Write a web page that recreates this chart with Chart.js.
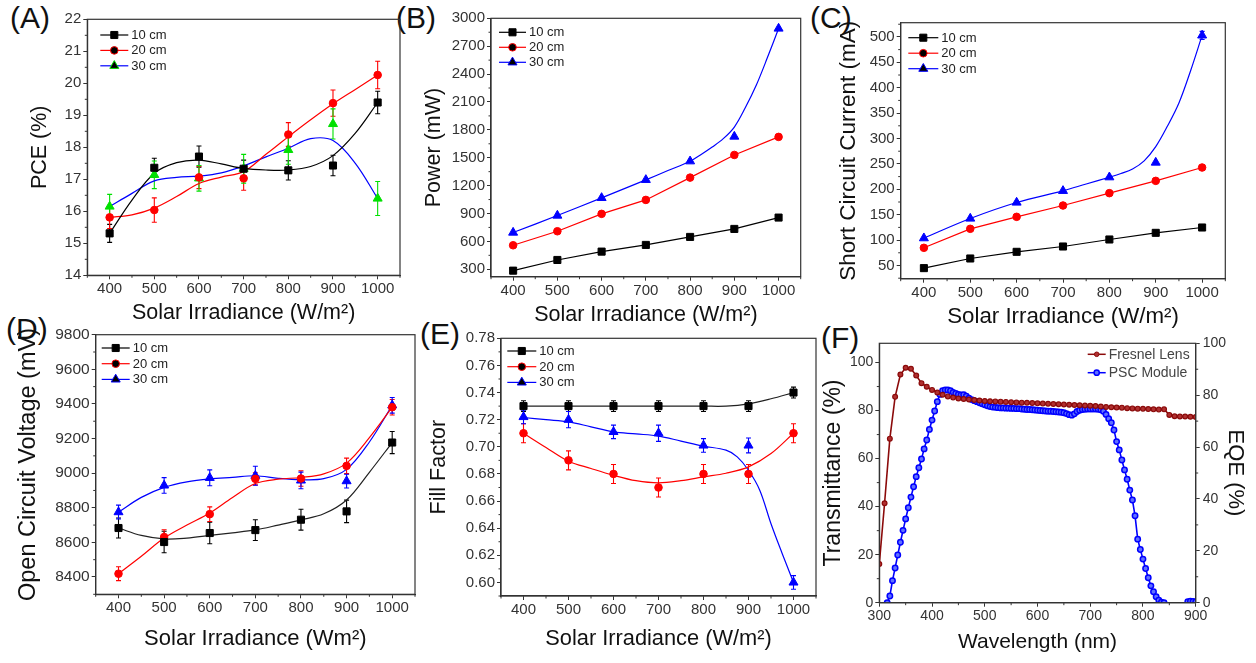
<!DOCTYPE html>
<html><head><meta charset="utf-8">
<script src="https://cdn.jsdelivr.net/npm/chart.js@4.4.1/dist/chart.umd.min.js"></script>
<style>
html,body{margin:0;padding:0;background:#fff;}
body{width:1256px;height:663px;position:relative;overflow:hidden;font-family:"Liberation Sans",Arial,sans-serif;}
canvas{position:absolute;}
.lbl{position:absolute;font-size:30px;color:#111;line-height:1;white-space:nowrap;}
</style></head><body>
<div class="lbl" style="left:10px;top:3px">(A)</div>
<div class="lbl" style="left:396px;top:3px">(B)</div>
<div class="lbl" style="left:810px;top:3px">(C)</div>
<div class="lbl" style="left:6px;top:314px">(D)</div>
<div class="lbl" style="left:420px;top:319px">(E)</div>
<div class="lbl" style="left:821px;top:323px">(F)</div>
<script>
// ---------------- DATA ----------------
const irradiance = [400, 500, 600, 700, 800, 900, 1000];
const fitIrradiance = [400, 450, 500, 550, 600, 650, 700, 750, 800, 850, 900, 950, 1000];
const irrTicks = [400, 500, 600, 700, 800, 900, 1000];

// (A) PCE
const pceTicks = [14, 15, 16, 17, 18, 19, 20, 21, 22];
const pce10 = [15.31, 17.36, 17.71, 17.33, 17.28, 17.43, 19.40];
const pce10Err = [0.28, 0.30, 0.33, 0.27, 0.30, 0.32, 0.35];
const pce20 = [15.81, 16.04, 17.06, 17.03, 18.40, 19.38, 20.26];
const pce20Err = [0.35, 0.38, 0.35, 0.37, 0.37, 0.41, 0.43];
const pce30 = [16.15, 17.14, 17.03, 17.33, 17.92, 18.73, 16.40];
const pce30Err = [0.38, 0.43, 0.40, 0.45, 0.45, 0.47, 0.53];
const pceFit10 = [15.31, 16.35, 17.19, 17.52, 17.60, 17.48, 17.34, 17.29, 17.29, 17.40, 17.74, 18.44, 19.40];
const pceFit20 = [15.81, 15.89, 16.10, 16.46, 16.87, 17.07, 17.24, 17.78, 18.33, 18.86, 19.36, 19.81, 20.26];
const pceFit30 = [16.15, 16.56, 16.95, 17.06, 17.10, 17.20, 17.42, 17.70, 17.97, 18.27, 18.21, 17.50, 16.40];

// (B) Power
const powerTicks = [300, 600, 900, 1200, 1500, 1800, 2100, 2400, 2700, 3000];
const power10 = [285, 400, 490, 562, 648, 734, 856];
const power20 = [558, 709, 896, 1046, 1286, 1530, 1724];
const power30 = [695, 878, 1068, 1262, 1462, 1728, 2890];
const power30CurveX = [400, 500, 600, 700, 750, 800, 825, 850, 875, 900, 925, 950, 975, 1000];
const power30Curve = [695, 878, 1068, 1262, 1362, 1462, 1535, 1615, 1705, 1830, 2040, 2285, 2580, 2890];

// (C) Short circuit current
const iscTicks = [50, 100, 150, 200, 250, 300, 350, 400, 450, 500];
const isc10 = [44.8, 63.8, 76.9, 87.4, 101.2, 114.3, 124.8];
const isc20 = [84.8, 122.2, 145.8, 168.1, 192.4, 216.6, 242.9];
const isc30 = [103.8, 142.5, 174.0, 197.0, 223.8, 252.7, 503.0];
const isc30Err = [0, 0, 0, 0, 0, 0, 8];
const isc30CurveX = [400, 500, 600, 700, 750, 800, 825, 850, 875, 900, 925, 950, 975, 1000];
const isc30Curve = [103.8, 142.5, 174.0, 197.0, 210.5, 223.8, 231, 240, 256, 284, 324, 370, 433, 503];

// (D) Open circuit voltage
const vocTicks = [8400, 8600, 8800, 9000, 9200, 9400, 9600, 9800];
const voc10 = [8683, 8602, 8654, 8671, 8731, 8779, 9177];
const voc10Err = [58, 62, 62, 60, 60, 65, 64];
const voc20 = [8419, 8631, 8763, 8967, 8969, 9042, 9381];
const voc20Err = [40, 42, 42, 35, 45, 45, 45];
const voc30 = [8775, 8929, 8973, 8985, 8958, 8954, 9392];
const voc30Err = [40, 45, 46, 55, 48, 40, 45];
const vocFit10 = [8683, 8640, 8620, 8625, 8640, 8655, 8672, 8700, 8730, 8765, 8845, 9005, 9177];
const vocFit20 = [8419, 8520, 8625, 8700, 8770, 8860, 8940, 8965, 8975, 8996, 9058, 9205, 9381];
const vocFit30 = [8775, 8860, 8918, 8950, 8967, 8976, 8985, 8970, 8962, 8968, 9022, 9180, 9392];

// (E) Fill factor
const ffTicks = [0.60, 0.62, 0.64, 0.66, 0.68, 0.70, 0.72, 0.74, 0.76, 0.78];
const ff10 = [0.730, 0.730, 0.730, 0.730, 0.730, 0.730, 0.740];
const ff10Err = [0.004, 0.004, 0.004, 0.004, 0.004, 0.004, 0.004];
const ff20 = [0.710, 0.690, 0.680, 0.670, 0.680, 0.680, 0.710];
const ff20Err = [0.007, 0.007, 0.007, 0.007, 0.007, 0.007, 0.007];
const ff30 = [0.722, 0.720, 0.711, 0.710, 0.701, 0.701, 0.600];
const ff30Err = [0.005, 0.006, 0.005, 0.006, 0.005, 0.0055, 0.005];
const ffFit10 = [0.730, 0.730, 0.730, 0.730, 0.730, 0.730, 0.730, 0.730, 0.730, 0.730, 0.7317, 0.7354, 0.740];
const ffFit20 = [0.710, 0.6995, 0.6894, 0.684, 0.679, 0.675, 0.6734, 0.675, 0.6778, 0.6805, 0.6852, 0.695, 0.710];
const ffFit30X = [400, 450, 500, 550, 600, 650, 700, 750, 800, 850, 875, 900, 925, 950, 975, 1000];
const ffFit30 = [0.7216, 0.720, 0.7184, 0.7147, 0.711, 0.7095, 0.7079, 0.7042, 0.7005, 0.6975, 0.6926, 0.6827, 0.668, 0.6433, 0.6212, 0.600];

// (F) Transmittance / EQE
const wlTicks = [300, 400, 500, 600, 700, 800, 900];
const pctTicks = [0, 20, 40, 60, 80, 100];
const fresnelWl = [300,310,320,330,340,350,360,370,380,390,400,410,420,430,440,450,460,470,480,490,500,510,520,530,540,550,560,570,580,590,600,610,620,630,640,650,660,670,680,690,700,710,720,730,740,750,760,770,780,790,800,810,820,830,840,850,860,870,880,890,900];
const fresnelT = [16.1,41.4,68.3,85.7,95.0,97.8,97.4,94.6,91.4,89.9,88.6,87.5,86.6,85.9,85.4,85.0,84.8,84.6,84.4,84.2,84.0,83.9,83.8,83.7,83.6,83.5,83.4,83.3,83.2,83.1,83.0,82.9,82.8,82.7,82.6,82.5,82.4,82.3,82.2,82.1,82.0,81.9,81.7,81.5,81.4,81.3,81.2,81.0,80.9,80.8,80.7,80.6,80.5,80.4,80.5,78.2,77.6,77.5,77.5,77.4,77.3];
const pscWl = [315,320,325,330,335,340,345,350,355,360,365,370,375,380,385,390,395,400,405,410,415,420,425,430,435,440,445,450,455,460,465,470,475,480,485,490,495,500,505,510,515,520,525,530,535,540,545,550,555,560,565,570,575,580,585,590,595,600,605,610,615,620,625,630,635,640,645,650,655,660,665,670,675,680,685,690,695,700,705,710,715,720,725,730,735,740,745,750,755,760,765,770,775,780,785,790,795,800,805,810,815,820,825,830,835,840,845,850,855,860,865,870,875,880,885,890,895,900];
const pscEqe = [0.0,2.6,8.5,13.4,18.4,23.3,27.9,32.3,36.6,40.7,44.7,48.6,52.0,55.4,59.3,62.7,66.8,70.4,73.9,77.5,80.3,81.7,82.0,82.0,81.7,81.1,80.7,80.3,80.1,80.2,79.6,78.8,78.3,77.9,77.5,77.1,76.7,76.3,75.9,75.6,75.4,75.3,75.2,75.1,75.1,75.0,75.0,74.9,74.9,74.8,74.8,74.7,74.6,74.5,74.5,74.4,74.3,74.2,74.1,74.0,73.9,73.8,73.8,73.7,73.6,73.5,73.4,73.2,72.9,72.5,72.3,72.8,73.7,74.2,74.5,74.6,74.7,74.7,74.7,74.7,74.6,74.4,73.8,72.6,70.9,69.4,66.6,62.1,58.9,55.0,51.2,47.6,43.4,39.6,33.5,24.5,20.5,16.8,13.2,9.6,6.5,4.2,2.3,1.0,0.2,0.0,null,null,null,null,null,null,null,null,0.4,0.6,0.5,0.3];

// ---------------- HELPERS ----------------
const FONT = '"Liberation Sans", Arial, Helvetica, sans-serif';
const BLACK = '#000000', RED = '#ff0000', BLUE = '#0000ff', GREEN = '#00e000';
const pts = (xs, ys) => xs.map((x, i) => ({x: x, y: ys[i]}));

function drawMarker(ctx, style, x, y, r, fill, stroke, bw) {
  ctx.beginPath();
  if (style === 'rect') { const s = r * Math.SQRT1_2; ctx.rect(x - s, y - s, 2 * s, 2 * s); }
  else if (style === 'triangle') { ctx.moveTo(x, y - r); ctx.lineTo(x + r * 0.866, y + r * 0.5); ctx.lineTo(x - r * 0.866, y + r * 0.5); ctx.closePath(); }
  else { ctx.arc(x, y, r, 0, Math.PI * 2); }
  ctx.fillStyle = fill; ctx.fill();
  ctx.strokeStyle = stroke; ctx.lineWidth = bw || 1; ctx.stroke();
}

function markers(xs, ys, style, r, color, opts) {
  opts = opts || {};
  return Object.assign({
    data: pts(xs, ys), pointStyle: style, pointRadius: r, pointHoverRadius: r,
    backgroundColor: opts.fill || color, borderColor: color, pointBorderWidth: 1,
    borderWidth: 1.2, showLine: !!opts.line, tension: 0, order: 0,
    errors: opts.errors || null, errorColor: opts.errorColor || color
  }, opts.extra || {});
}
function curve(xs, ys, color, width) {
  return { data: pts(xs, ys), showLine: true, pointRadius: 0, pointHoverRadius: 0,
    borderColor: color, backgroundColor: color, borderWidth: width || 1.2,
    tension: 0.35, order: 1 };
}

const errorBarPlugin = {
  id: 'errbars',
  beforeDatasetsDraw(chart) {
    const ctx = chart.ctx;
    chart.data.datasets.forEach(ds => {
      if (!ds.errors) return;
      const xs = chart.scales[ds.xAxisID || 'x'], ys = chart.scales[ds.yAxisID || 'y'];
      ctx.save(); ctx.strokeStyle = ds.errorColor; ctx.lineWidth = 1.1;
      ds.data.forEach((p, j) => {
        const e = ds.errors[j]; if (!e) return;
        const px = xs.getPixelForValue(p.x);
        const y1 = ys.getPixelForValue(p.y + e), y2 = ys.getPixelForValue(p.y - e);
        ctx.beginPath();
        ctx.moveTo(px, y1); ctx.lineTo(px, y2);
        ctx.moveTo(px - 2.5, y1); ctx.lineTo(px + 2.5, y1);
        ctx.moveTo(px - 2.5, y2); ctx.lineTo(px + 2.5, y2);
        ctx.stroke();
      });
      ctx.restore();
    });
  }
};

const frameMinorPlugin = {
  id: 'frameMinor',
  afterDraw(chart, args, opts) {
    const ctx = chart.ctx, ca = chart.chartArea;
    ctx.save();
    ctx.strokeStyle = '#333'; ctx.lineWidth = 1.2;
    ctx.strokeRect(ca.left, ca.top, ca.right - ca.left, ca.bottom - ca.top);
    ctx.lineWidth = 1;
    (opts.scales || []).forEach(id => {
      const sc = chart.scales[id];
      const t = sc.ticks.map(k => k.value);
      if (t.length < 2) return;
      const step = t[1] - t[0];
      for (let v = t[0] - step / 2; v <= sc.max + 1e-9; v += step) {
        if (v < sc.min - 1e-9) continue;
        const p = sc.getPixelForValue(v);
        ctx.beginPath();
        if (sc.isHorizontal()) { ctx.moveTo(p, sc.top); ctx.lineTo(p, sc.top + 2.5); }
        else if (sc.position === 'left') { ctx.moveTo(sc.right, p); ctx.lineTo(sc.right - 2.5, p); }
        else { ctx.moveTo(sc.left, p); ctx.lineTo(sc.left + 2.5, p); }
        ctx.stroke();
      }
    });
    ctx.restore();
  }
};

const legendPlugin = {
  id: 'inLegend',
  afterDraw(chart, args, opts) {
    if (!opts.items) return;
    const ctx = chart.ctx, ca = chart.chartArea;
    opts.items.forEach((it, i) => {
      const x0 = ca.left + opts.dx, y = ca.top + opts.dy + i * opts.spacing;
      ctx.save();
      ctx.strokeStyle = it.line; ctx.lineWidth = it.lw || 1.2;
      ctx.beginPath(); ctx.moveTo(x0, y); ctx.lineTo(x0 + opts.len, y); ctx.stroke();
      drawMarker(ctx, it.style, x0 + opts.len / 2, y, it.r, it.fill || it.marker, it.marker, it.bw || 1);
      ctx.font = opts.fontSize + 'px ' + FONT;
      ctx.fillStyle = opts.textColor || '#222'; ctx.textBaseline = 'middle'; ctx.textAlign = 'left';
      ctx.fillText(it.label, x0 + opts.len + 3, y + 0.5);
      ctx.restore();
    });
  }
};

function axis(o, pos, afterFit, title, titleSize) {
  return {
    type: 'linear', position: pos, min: o.min, max: o.max,
    afterBuildTicks: s => { s.ticks = o.ticks.map(v => ({value: v})); },
    afterFit: afterFit,
    ticks: { autoSkip: false, maxRotation: 0, minRotation: 0, padding: pos === 'bottom' ? 1 : (pos === 'right' ? 3 : 2),
      color: '#333', font: {family: FONT, size: o.tickSize || 15},
      callback: v => (o.dec ? Number(v).toFixed(o.dec) : String(v)) },
    grid: { drawOnChartArea: false, drawTicks: true, tickLength: 4, color: '#333', lineWidth: 1 },
    border: { display: true, color: '#333', width: 1.2 },
    title: { display: true, text: title, color: '#111', font: {family: FONT, size: titleSize}, padding: {top: 0, bottom: 0} }
  };
}

function buildPanel(p) {
  const r = p.rect;
  const yOuter = p.yTitleX - p.yTitleSize * 0.6;
  const xOuter = p.xTitleY + p.xTitleSize * 0.6;
  let rightOuter = r.R;
  if (p.y2) rightOuter = p.y2.titleX + p.y2.titleSize * 0.6;
  const cLeft = Math.floor(yOuter) - 4;
  const cTop = Math.floor(r.T) - 14;
  const cRight = Math.ceil(rightOuter) + (p.y2 ? 3 : 16);
  const cBottom = Math.ceil(xOuter) + 4;
  const W = cRight - cLeft, H = cBottom - cTop;
  const cv = document.createElement('canvas');
  cv.width = W; cv.height = H;
  cv.style.left = cLeft + 'px'; cv.style.top = cTop + 'px';
  cv.style.width = W + 'px'; cv.style.height = H + 'px';
  document.body.appendChild(cv);

  const scales = {
    x: axis(p.x, 'bottom', s => { s.height = xOuter - r.B; }, p.xTitle, p.xTitleSize),
    y: axis(p.y, 'left', s => { s.width = r.L - yOuter; }, p.yTitle, p.yTitleSize)
  };
  const minor = ['x', 'y'];
  if (p.y2) {
    scales.y2 = axis(p.y2, 'right', s => { s.width = rightOuter - r.R; }, p.y2.title, p.y2.titleSize);
    minor.push('y2');
  }
  new Chart(cv.getContext('2d'), {
    type: 'scatter',
    data: { datasets: p.datasets },
    options: {
      responsive: false, animation: false, devicePixelRatio: 1,
      layout: { padding: { left: yOuter - cLeft, top: r.T - cTop, right: cRight - rightOuter, bottom: cBottom - xOuter } },
      scales: scales,
      plugins: { legend: {display: false}, tooltip: {enabled: false},
        frameMinor: { scales: minor }, inLegend: p.legend }
    },
    plugins: [errorBarPlugin, frameMinorPlugin, legendPlugin]
  });
}

const legend3 = (markerThird) => [
  {label: '10 cm', line: BLACK, marker: BLACK, style: 'rect', r: 5},
  {label: '20 cm', line: RED, marker: RED, style: 'circle', r: 3.8},
  {label: '30 cm', line: BLUE, marker: markerThird, style: 'triangle', r: 5.2}
];
const xIrr = {min: 350, max: 1050, ticks: irrTicks};

// (A)
buildPanel({
  rect: {L: 87.3, T: 19.3, R: 400, B: 275.3}, yTitleX: 40, xTitleY: 313, yTitleSize: 21.5, xTitleSize: 21.5,
  yTitle: 'PCE (%)', xTitle: 'Solar Irradiance (W/m²)',
  x: xIrr, y: {min: 14, max: 22, ticks: pceTicks},
  legend: {dx: 13, dy: 15.7, spacing: 15.4, len: 28, fontSize: 13, items: legend3(GREEN)},
  datasets: [
    markers(irradiance, pce10, 'rect', 5, BLACK, {errors: pce10Err}),
    markers(irradiance, pce20, 'circle', 3.8, RED, {errors: pce20Err}),
    markers(irradiance, pce30, 'triangle', 5.2, GREEN, {errors: pce30Err}),
    curve(fitIrradiance, pceFit10, BLACK), curve(fitIrradiance, pceFit20, RED), curve(fitIrradiance, pceFit30, BLUE)
  ]
});

// (B)
buildPanel({
  rect: {L: 491, T: 18.3, R: 800.7, B: 276.7}, yTitleX: 433.7, xTitleY: 315, yTitleSize: 21.5, xTitleSize: 21.5,
  yTitle: 'Power (mW)', xTitle: 'Solar Irradiance (W/m²)',
  x: xIrr, y: {min: 220, max: 3000, ticks: powerTicks},
  legend: {dx: 8, dy: 14, spacing: 15, len: 27, fontSize: 13, items: legend3(BLUE)},
  datasets: [
    markers(irradiance, power10, 'rect', 5, BLACK, {line: true}),
    markers(irradiance, power20, 'circle', 3.8, RED, {line: true}),
    markers(irradiance, power30, 'triangle', 5.2, BLUE),
    curve(power30CurveX, power30Curve, BLUE)
  ]
});

// (C)
buildPanel({
  rect: {L: 900.7, T: 22.7, R: 1225.3, B: 278.7}, yTitleX: 848.5, xTitleY: 316.7, yTitleSize: 22.5, xTitleSize: 22.3,
  yTitle: 'Short Circuit Current (mA)', xTitle: 'Solar Irradiance (W/m²)',
  x: xIrr, y: {min: 24, max: 528, ticks: iscTicks},
  legend: {dx: 7.6, dy: 15, spacing: 15.5, len: 30, fontSize: 13, items: legend3(BLUE)},
  datasets: [
    markers(irradiance, isc10, 'rect', 5, BLACK, {line: true}),
    markers(irradiance, isc20, 'circle', 3.8, RED, {line: true}),
    markers(irradiance, isc30, 'triangle', 5.2, BLUE, {errors: isc30Err}),
    curve(isc30CurveX, isc30Curve, BLUE)
  ]
});

// (D)
buildPanel({
  rect: {L: 95.7, T: 334.7, R: 415, B: 594.3}, yTitleX: 28.7, xTitleY: 639, yTitleSize: 23.5, xTitleSize: 22,
  yTitle: 'Open Circuit Voltage (mV)', xTitle: 'Solar Irradiance (Wm²)',
  x: xIrr, y: {min: 8300, max: 9800, ticks: vocTicks, tickSize: 15.5},
  legend: {dx: 6, dy: 13.3, spacing: 15.7, len: 28, fontSize: 13, items: legend3(BLUE)},
  datasets: [
    markers(irradiance, voc10, 'rect', 5, BLACK, {errors: voc10Err}),
    markers(irradiance, voc20, 'circle', 3.8, RED, {errors: voc20Err}),
    markers(irradiance, voc30, 'triangle', 5.2, BLUE, {errors: voc30Err}),
    curve(fitIrradiance, vocFit10, '#222'), curve(fitIrradiance, vocFit20, RED), curve(fitIrradiance, vocFit30, BLUE)
  ]
});

// (E)
buildPanel({
  rect: {L: 501, T: 338.3, R: 816, B: 596}, yTitleX: 439, xTitleY: 639, yTitleSize: 21.6, xTitleSize: 21.8,
  yTitle: 'Fill Factor', xTitle: 'Solar Irradiance (W/m²)',
  x: xIrr, y: {min: 0.59, max: 0.78, ticks: ffTicks, dec: 2},
  legend: {dx: 6.3, dy: 12.7, spacing: 15.7, len: 29, fontSize: 13, items: legend3(BLUE)},
  datasets: [
    markers(irradiance, ff10, 'rect', 5, BLACK, {errors: ff10Err}),
    markers(irradiance, ff20, 'circle', 3.8, RED, {errors: ff20Err}),
    markers(irradiance, ff30, 'triangle', 5.2, BLUE, {errors: ff30Err}),
    curve(fitIrradiance, ffFit10, '#222'), curve(fitIrradiance, ffFit20, RED), curve(ffFit30X, ffFit30, BLUE)
  ]
});

// (F)
const DARKRED = '#8b0a0a';
buildPanel({
  rect: {L: 879.3, T: 343.3, R: 1195.7, B: 602.7}, yTitleX: 834, xTitleY: 642, yTitleSize: 23, xTitleSize: 21,
  yTitle: 'Transmittance (%)', xTitle: 'Wavelength (nm)',
  x: {min: 300, max: 900, ticks: wlTicks, tickSize: 14},
  y: {min: 0, max: 108, ticks: pctTicks, tickSize: 14},
  y2: {min: 0, max: 100, ticks: pctTicks, tickSize: 14, title: 'EQE (%)', titleX: 1235, titleSize: 22},
  legend: {dx: 208.4, dy: 11, spacing: 18.4, len: 18, fontSize: 14, textColor: '#444', items: [
    {label: 'Fresnel Lens', line: DARKRED, marker: DARKRED, fill: '#b03030', style: 'circle', r: 2.3, lw: 1.5},
    {label: 'PSC Module', line: BLUE, marker: BLUE, fill: '#6070ff', style: 'circle', r: 2.6, lw: 1.5, bw: 1.5}
  ]},
  datasets: [
    markers(fresnelWl, fresnelT, 'circle', 2.4, DARKRED, {line: true, fill: '#b03030', extra: {borderWidth: 1.6, pointBorderWidth: 1.2, yAxisID: 'y'}}),
    markers(pscWl, pscEqe, 'circle', 2.7, BLUE, {line: true, fill: '#6070ff', extra: {borderWidth: 1.6, pointBorderWidth: 1.5, yAxisID: 'y2', spanGaps: false}})
  ]
});
</script>
</body></html>
